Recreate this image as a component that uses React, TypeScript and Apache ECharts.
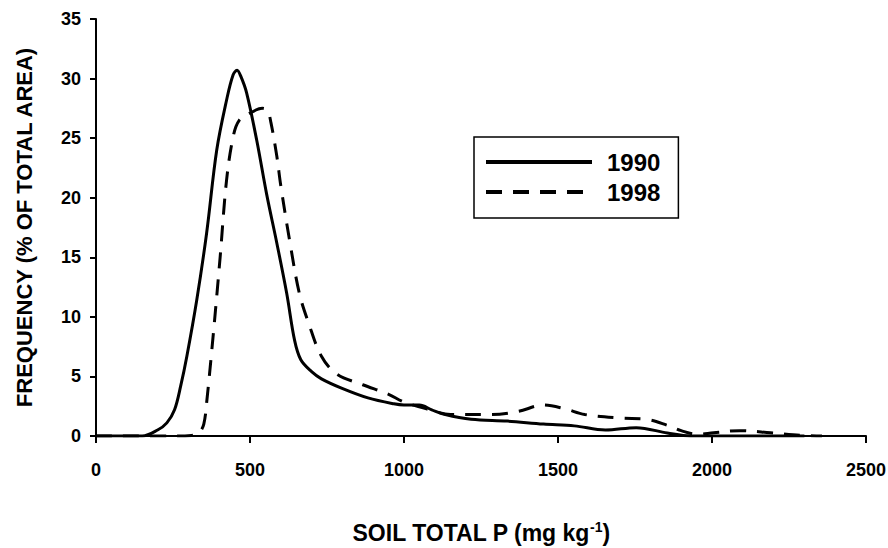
import React, { useEffect, useRef } from "react";
import * as echarts from "echarts";

const xTicks = [0, 500, 1000, 1500, 2000, 2500];
const yTicks = [0, 5, 10, 15, 20, 25, 30, 35];

const p1990 = [0, 100, 150, 200, 230, 255, 275, 295, 327, 359, 392, 424, 445, 458, 470, 489, 522, 554, 587, 619, 645, 665, 700, 732, 799, 883, 967, 1000, 1050, 1090, 1134, 1218, 1335, 1453, 1553, 1654, 1754, 1855, 1930, 2000, 2300];
const f1990 = [0, 0, 0, 0.5, 1.1, 2.2, 4.2, 6.7, 11.4, 17.0, 24.0, 28.2, 30.3, 30.7, 30.2, 28.8, 24.8, 20.3, 16.2, 12.0, 8.0, 6.4, 5.4, 4.8, 4.0, 3.2, 2.7, 2.6, 2.6, 2.2, 1.8, 1.4, 1.25, 1.0, 0.85, 0.5, 0.7, 0.25, 0, 0, 0];

const p1998 = [0, 250, 310, 335, 350, 360, 381, 403, 424, 446, 465, 500, 540, 557, 568, 587, 600, 630, 660, 690, 732, 782, 866, 950, 1000, 1084, 1151, 1285, 1369, 1453, 1520, 1587, 1704, 1788, 1855, 1900, 1950, 2005, 2089, 2190, 2290, 2357];
const f1998 = [0, 0, 0.05, 0.3, 1.0, 3.0, 8.6, 15.0, 21.5, 25.2, 26.5, 27.1, 27.5, 27.3, 26.3, 23.5, 21.0, 16.2, 12.0, 9.5, 6.7, 5.2, 4.3, 3.5, 2.85, 2.2, 1.8, 1.8, 2.05, 2.6, 2.3, 1.8, 1.5, 1.4, 0.9, 0.45, 0.15, 0.27, 0.45, 0.27, 0.05, 0];

const FONT = "'Liberation Sans', Arial, sans-serif";

export default function App() {
  const ref = useRef<HTMLDivElement>(null);
  useEffect(() => {
    document.body.style.margin = "0";
    const chart = echarts.init(ref.current!, null, { renderer: "svg" });
    const toPairs = (xs: number[], ys: number[]) => xs.map((x, i) => [x, ys[i]]);
    chart.setOption({
      animation: false,
      backgroundColor: "#fff",
      textStyle: { fontFamily: FONT },
      grid: { left: 96, right: 22, top: 19, bottom: 112, outerBoundsMode: "none" },
      legend: {
        orient: "vertical",
        left: 474,
        top: 137,
        borderColor: "#000",
        borderWidth: 1.5,
        padding: [12, 18, 13, 10],
        itemWidth: 106,
        itemHeight: 14,
        itemGap: 4,
        itemStyle: { opacity: 0 },
        lineStyle: { width: 4 },
        textStyle: { fontFamily: FONT, fontWeight: "bold", fontSize: 24, color: "#000", lineHeight: 26, padding: [0, 0, 0, 10] },
        data: ["1990", "1998"],
      },
      xAxis: {
        type: "value",
        min: 0,
        max: 2500,
        interval: 500,
        name: "{a|SOIL TOTAL P (mg kg}{s|-1}{a|)}",
        nameLocation: "middle",
        nameGap: 84,
        nameTextStyle: {
          rich: {
            a: { fontFamily: FONT, fontWeight: "bold", fontSize: 23, color: "#000", lineHeight: 24, verticalAlign: "bottom" },
            s: { fontFamily: FONT, fontWeight: "bold", fontSize: 14, color: "#000", lineHeight: 24, verticalAlign: "top" },
          },
        },
        axisLine: { lineStyle: { color: "#000", width: 2 } },
        axisTick: { show: true, inside: false, length: 7, lineStyle: { color: "#000", width: 2 } },
        splitLine: { show: false },
        axisLabel: { color: "#000", fontWeight: "bold", fontSize: 18, fontFamily: FONT, margin: 25, formatter: (v: number) => (xTicks.includes(v) ? String(v) : "") },
      },
      yAxis: {
        type: "value",
        min: 0,
        max: 35,
        interval: 5,
        name: "FREQUENCY (% OF TOTAL AREA)",
        nameLocation: "middle",
        nameGap: 61,
        nameTextStyle: { fontFamily: FONT, fontWeight: "bold", fontSize: 22, color: "#000" },
        axisLine: { show: true, lineStyle: { color: "#000", width: 2 } },
        axisTick: { show: true, inside: false, length: 6, lineStyle: { color: "#000", width: 2 } },
        splitLine: { show: false },
        axisLabel: { color: "#000", fontWeight: "bold", fontSize: 18, fontFamily: FONT, margin: 15, formatter: (v: number) => (yTicks.includes(v) ? String(v) : "") },
      },
      series: [
        {
          name: "1990",
          type: "line",
          data: toPairs(p1990, f1990),
          smooth: 0.35,
          symbol: "none",
          lineStyle: { color: "#000", width: 3, type: "solid" },
          itemStyle: { color: "#000" },
        },
        {
          name: "1998",
          type: "line",
          data: toPairs(p1998, f1998),
          smooth: 0.35,
          symbol: "none",
          lineStyle: { color: "#000", width: 3, type: [16, 11] },
          itemStyle: { color: "#000" },
        },
      ],
    });
    return () => chart.dispose();
  }, []);
  return <div ref={ref} style={{ width: 888, height: 548 }} />;
}
